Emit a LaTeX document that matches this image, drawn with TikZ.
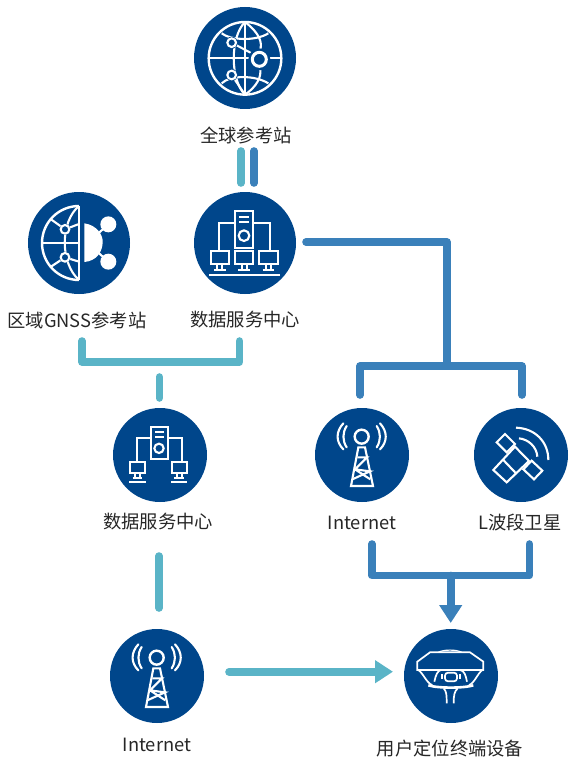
\documentclass[tikz,border=0pt]{standalone}
\usepackage{fontspec}
\setmainfont{Noto Sans CJK SC}
\usetikzlibrary{arrows.meta}
\definecolor{navy}{HTML}{00468B}
\definecolor{tealc}{HTML}{5AB4C7}
\definecolor{bluec}{HTML}{3A80BA}
\tikzset{
  disc/.style={circle,fill=navy,draw=none,inner sep=0pt,minimum size=#1},
  lab/.style={text=black!85,font=\fontsize{18.3}{20}\selectfont,inner sep=0pt,anchor=center},
  tealline/.style={draw=tealc,line width=7.6pt,line cap=round,line join=round},
  blueline/.style={draw=bluec,line width=7.6pt,line cap=round,line join=round},
  tiptop/.style={-{Triangle[length=18pt,width=22pt]}},
  ic/.style={draw=white,line width=2.1pt,line join=miter},
  icthin/.style={draw=white,line width=1.2pt},
  zoomed/.style={shift={#1},x=0.33333pt,y=-0.33333pt}
}
\newcommand{\towericon}[1]{%
\begin{scope}[zoomed={#1}]
 \draw[ic,line width=2.4pt] (170,110) circle (21);
 \draw[ic,line cap=round] (125,78) .. controls (112,98) and (112,122) .. (125,142);
 \draw[ic,line cap=round] (115,70) .. controls (92,95) and (92,125) .. (115,148);
 \draw[ic,line cap=round] (215,78) .. controls (228,98) and (228,122) .. (215,142);
 \draw[ic,line cap=round] (225,70) .. controls (248,95) and (248,125) .. (225,148);
 \draw[ic] (160,142) -- (138,258) -- (204,258) -- (180,142) -- cycle;
 \draw[ic] (157,172) -- (186,172) -- (150,208) -- (195,214) -- (142,238);
 \draw[ic] (150,208) -- (196,238);
\end{scope}}
\begin{document}
\begin{tikzpicture}[x=1pt,y=-1pt]
\useasboundingbox (0,0) rectangle (568,757);
% discs
\node[disc=102pt] (global) at (245,58) {};
\node[disc=102pt] (region) at (79,243) {};
\node[disc=102pt] (center) at (245,243) {};
\node[disc=94pt] (center2) at (160,455) {};
\node[disc=94pt] (net1) at (362,455) {};
\node[disc=94pt] (lband) at (521,455) {};
\node[disc=94pt] (net2) at (157,676) {};
\node[disc=94pt] (rover) at (451,676) {};
% labels
\node[lab] (tglobal) at (246,135) {全球参考站};
\node[lab] (tregion) at (77,321) {区域GNSS参考站};
\node[lab] (tcenter) at (245,320) {数据服务中心};
\node[lab] (tcenter2) at (158,522) {数据服务中心};
\node[lab] (tnet1) at (362,523) {Internet};
\node[lab] (tlband) at (520,523) {L波段卫星};
\node[lab] (tnet2) at (157,745) {Internet};
\node[lab] (trover) at (450,749) {用户定位终端设备};
% junction coordinates
\coordinate (a1) at (241,151); \coordinate (a2) at (241,183);
\coordinate (b1) at (254,151); \coordinate (b2) at (254,183);
\coordinate (c1) at (306,242); \coordinate (c2) at (447,242); \coordinate (c3) at (447,366);
\coordinate (d1) at (360,395); \coordinate (d2) at (360,366); \coordinate (d3) at (522,366); \coordinate (d4) at (522,395);
\coordinate (e1) at (82,341); \coordinate (e2) at (82,362); \coordinate (e3) at (239.5,362); \coordinate (e4) at (239.5,341);
\coordinate (f1) at (159.3,377); \coordinate (f2) at (159.3,398);
\coordinate (g1) at (159,556); \coordinate (g2) at (159,608);
\coordinate (h1) at (229,671.7); \coordinate (h2) at (393,671.7);
\coordinate (i1) at (372,544); \coordinate (i2) at (372,575.5); \coordinate (i3) at (529.3,575.5); \coordinate (i4) at (529.3,544);
\coordinate (j1) at (450.7,575.5); \coordinate (j2) at (450.7,623);
% connectors
\draw[tealline] (a1) -- (a2);
\draw[blueline] (b1) -- (b2);
\draw[blueline] (c1) -- (c2) -- (c3);
\draw[blueline] (d1) -- (d2) -- (d3) -- (d4);
\draw[tealline] (e1) -- (e2) -- (e3) -- (e4);
\draw[tealline] (f1) -- (f2);
\draw[tealline] (g1) -- (g2);
\draw[tealline,tiptop] (h1) -- (h2);
\draw[blueline] (i1) -- (i2) -- (i3) -- (i4);
\draw[blueline,tiptop] (j1) -- (j2);
% globe icon
\begin{scope}[zoomed={(180,0)}]
 \draw[ic,line width=2.4pt] (195,175) circle (109);
 \draw[ic] (86,175) -- (304,175);
 \draw[ic] (195,66) -- (195,284);
 \draw[ic] (195,66) .. controls (150,110) and (150,240) .. (195,284);
 \draw[ic] (195,66) .. controls (240,100) and (248,130) .. (240,150);
 \draw[ic] (240,205) .. controls (246,230) and (230,260) .. (195,284);
 \draw[ic] (125,100) .. controls (150,120) and (225,125) .. (265,100);
 \draw[ic] (125,250) .. controls (150,225) and (225,225) .. (265,250);
 \draw[ic] (155,128) -- (215,160);
 \draw[ic] (155,225) -- (195,284);
 \fill[navy] (155,128) circle (18); \draw[ic] (155,128) circle (13);
 \fill[navy] (155,225) circle (18); \draw[ic] (155,225) circle (13);
 \fill[navy] (238,178) circle (33);
 \draw[white,line width=3pt] (238,178) circle (21);
\end{scope}
% regional icon
\begin{scope}[zoomed={(15,180)}]
 \draw[ic,line width=2.4pt] (192,78) arc[start angle=270,end angle=90,radius=111];
 \draw[ic,line width=2.4pt] (192,78) -- (192,300);
 \draw[ic] (82,188) -- (192,188);
 \draw[ic] (192,78) .. controls (135,125) and (135,250) .. (192,300);
 \draw[ic] (108,118) -- (150,148) -- (192,132);
 \draw[ic] (108,260) -- (150,232) -- (192,245);
 \fill[navy] (150,148) circle (17); \draw[ic] (150,148) circle (13);
 \fill[navy] (150,232) circle (17); \draw[ic] (150,232) circle (13);
 \fill[white] (208,130) .. controls (245,135) and (265,165) .. (263,188) .. controls (262,215) and (245,243) .. (208,246) -- cycle;
 \fill[white] (280,133) circle (24); \fill[white] (280,245) circle (24);
 \draw[ic] (250,160) -- (280,133); \draw[ic] (250,218) -- (280,245);
\end{scope}
% central server icon
\begin{scope}[zoomed={(15,180)}]
 \draw[ic] (660,93) rectangle (715,203);
 \draw[ic] (672,112) -- (703,112); \draw[ic] (672,127) -- (703,127);
 \draw[ic] (687,167) circle (16);
 \draw[ic] (660,130) -- (611,130) -- (611,212);
 \draw[ic] (715,130) -- (765,130) -- (765,212);
 \foreach \x in {587,660,733}{
  \draw[ic] (\x,213) rectangle ++(55,39);
  \draw[ic] ({\x+20},252) -- ({\x+20},272); \draw[ic] ({\x+35},252) -- ({\x+35},272);
  \draw[ic] ({\x+10},270) -- ({\x+45},270);
 }
 \draw[ic] (583,285) -- (795,285);
\end{scope}
% second server icon
\begin{scope}[zoomed={(100,400)}]
 \draw[ic] (153,80) rectangle (203,178);
 \draw[ic] (165,97) -- (191,97); \draw[ic] (165,110) -- (191,110);
 \draw[ic] (177,145) circle (14);
 \draw[ic] (153,113) -- (112,113) -- (112,185);
 \draw[ic] (203,113) -- (245,113) -- (245,185);
 \foreach \x in {90,215}{
  \draw[ic] (\x,185) rectangle ++(45,35);
  \draw[ic] ({\x+15},220) -- ({\x+15},237); \draw[ic] ({\x+30},220) -- ({\x+30},237);
  \draw[ic] ({\x+8},235) -- ({\x+37},235);
  \draw[ic] ({\x-2},247) -- ({\x+47},247);
 }
\end{scope}
% towers
\towericon{(305,400)}
\towericon{(100,621)}
% satellite icon
\begin{scope}[zoomed={(305,400)}]
 \draw[ic] (630,140) -- (672,183) -- (605,247) -- (565,210) -- cycle;
 \draw[ic] (595,180) -- (635,222);
 \draw[ic] (600,102) -- (630,132) -- (605,157) -- (575,127) -- cycle;
 \draw[ic] (680,182) -- (712,212) -- (687,238) -- (655,208) -- cycle;
 \draw[ic] (633,83) .. controls (690,85) and (730,125) .. (730,180);
 \draw[ic] (642,115) .. controls (670,118) and (695,140) .. (697,170);
\end{scope}
% rover icon
\begin{scope}[zoomed={(395,620)}]
 \draw[ic,line width=1.7pt] (67,125) -- (105,97) -- (225,97) -- (265,125) -- (265,150) -- (67,150) -- cycle;
 \draw[icthin] (130,97) .. controls (145,88) and (185,88) .. (200,97);
 \draw[ic,line width=1.7pt] (70,150) .. controls (85,160) and (95,190) .. (112,195);
 \draw[ic,line width=1.7pt] (262,150) .. controls (248,160) and (238,190) .. (222,195);
 \draw[ic,line width=1.7pt] (118,185) .. controls (122,165) and (128,152) .. (138,150) -- (195,150) .. controls (208,152) and (212,165) .. (216,185);
 \draw[ic,line width=1.7pt,rounded corners=3pt] (150,158) rectangle (186,184);
 \fill[white] (137,163) rectangle (145,178); \fill[white] (191,163) rectangle (199,178);
 \draw[white,line width=2.6pt] (100,196) .. controls (130,205) and (205,205) .. (235,196);
 \draw[ic,line width=1.7pt] (146,205) .. controls (155,215) and (155,225) .. (155,250);
 \draw[ic,line width=1.7pt] (188,205) .. controls (178,215) and (176,225) .. (176,250);
\end{scope}
\end{tikzpicture}
\end{document}
